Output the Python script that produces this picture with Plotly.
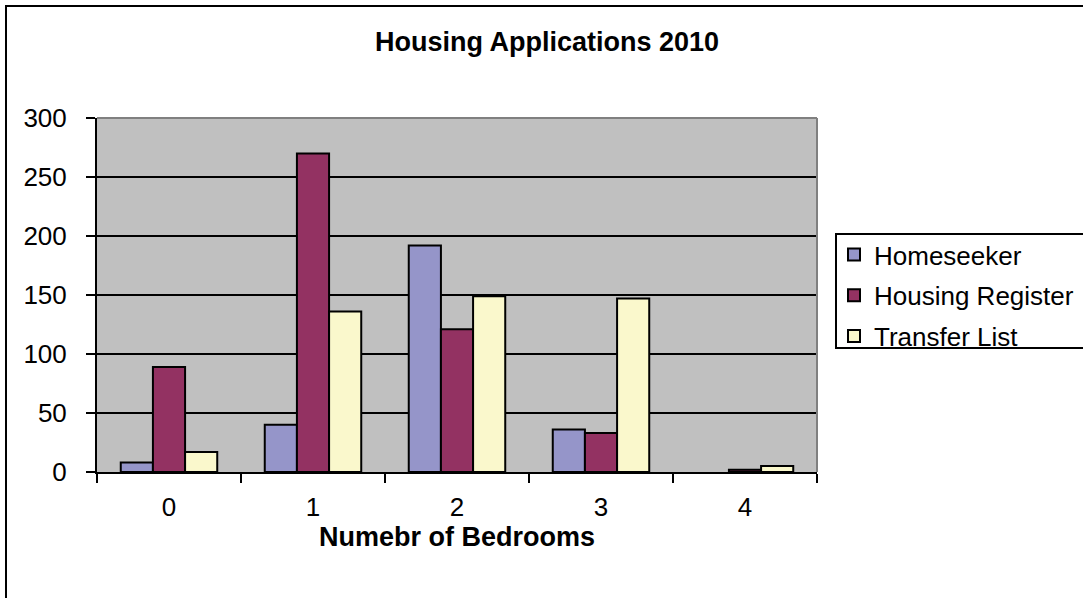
import plotly.graph_objects as go

# Applications by number of bedrooms, 2010
bedrooms = ["0", "1", "2", "3", "4"]
homeseeker = [8, 40, 192, 36, 0]
housing_register = [89, 270, 121, 33, 2]
transfer_list = [17, 136, 149, 147, 5]

series = [
    ("Homeseeker", homeseeker, "#9595C9"),
    ("Housing Register", housing_register, "#933262"),
    ("Transfer List", transfer_list, "#FAF8CC"),
]

W, H = 1083, 598
L, R, T, B = 97, 817, 118, 472  # plot area in pixels
FONT = "Liberation Sans, Arial, sans-serif"


def px_x(p):
    return (p - L) / (R - L)


def px_y(p):
    return (B - p) / (B - T)


fig = go.Figure()
for i, (name, vals, col) in enumerate(series):
    # no outline on empty bars
    widths = [2 if v > 0 else 0 for v in vals]
    fig.add_trace(go.Bar(
        x=bedrooms, y=vals, name=name,
        marker=dict(color=col, line=dict(color="black", width=widths)),
        legendgroup=f"g{i}",
    ))

shapes = [
    # outer chart frame
    dict(type="rect", xref="paper", yref="paper",
         x0=px_x(6), x1=px_x(1100), y0=px_y(615), y1=px_y(6),
         line=dict(color="black", width=2), fillcolor="rgba(0,0,0,0)", layer="below"),
    # plot area top and right edges
    dict(type="line", xref="paper", yref="paper", x0=0, x1=1, y0=1, y1=1,
         line=dict(color="#808080", width=2), layer="above"),
    dict(type="line", xref="paper", yref="paper", x0=1, x1=1, y0=0, y1=1,
         line=dict(color="#808080", width=2), layer="above"),
    # legend frame
    dict(type="rect", xref="paper", yref="paper",
         x0=px_x(836), x1=px_x(1100), y0=px_y(348), y1=px_y(234),
         line=dict(color="black", width=2), fillcolor="rgba(0,0,0,0)"),
]

fig.update_layout(
    width=W, height=H,
    margin=dict(l=L, r=W - R, t=T, b=H - B, pad=0, autoexpand=False),
    paper_bgcolor="white",
    plot_bgcolor="#C0C0C0",
    font=dict(family=FONT, size=26, color="black"),
    barmode="group",
    bargap=0.33,
    bargroupgap=0,
    title=dict(text="<b>Housing Applications 2010</b>", x=547 / W, xanchor="center",
               y=1 - 42 / H, yanchor="middle", font=dict(size=27)),
    showlegend=True,
    legend=dict(xref="container", yref="container",
                x=834 / W, xanchor="left", y=1 - 231 / H, yanchor="top",
                bgcolor="rgba(0,0,0,0)", borderwidth=0,
                traceorder="grouped", tracegroupgap=4,
                font=dict(size=26), itemwidth=30),
    shapes=shapes,
)

fig.update_xaxes(
    type="category", tickson="boundaries",
    ticks="outside", ticklen=9, tickwidth=2, tickcolor="black",
    showline=True, linecolor="black", linewidth=2,
    showgrid=False, ticklabelstandoff=11,
    title=dict(text="<b>Numebr of Bedrooms</b>", standoff=5, font=dict(size=27)),
)
fig.update_yaxes(
    range=[0, 300], dtick=50,
    ticks="outside", ticklen=9, tickwidth=2, tickcolor="black",
    showline=True, linecolor="black", linewidth=2,
    showgrid=True, gridcolor="black", gridwidth=2,
    zeroline=False, ticklabelstandoff=14,
)

fig.write_html("out.html")
